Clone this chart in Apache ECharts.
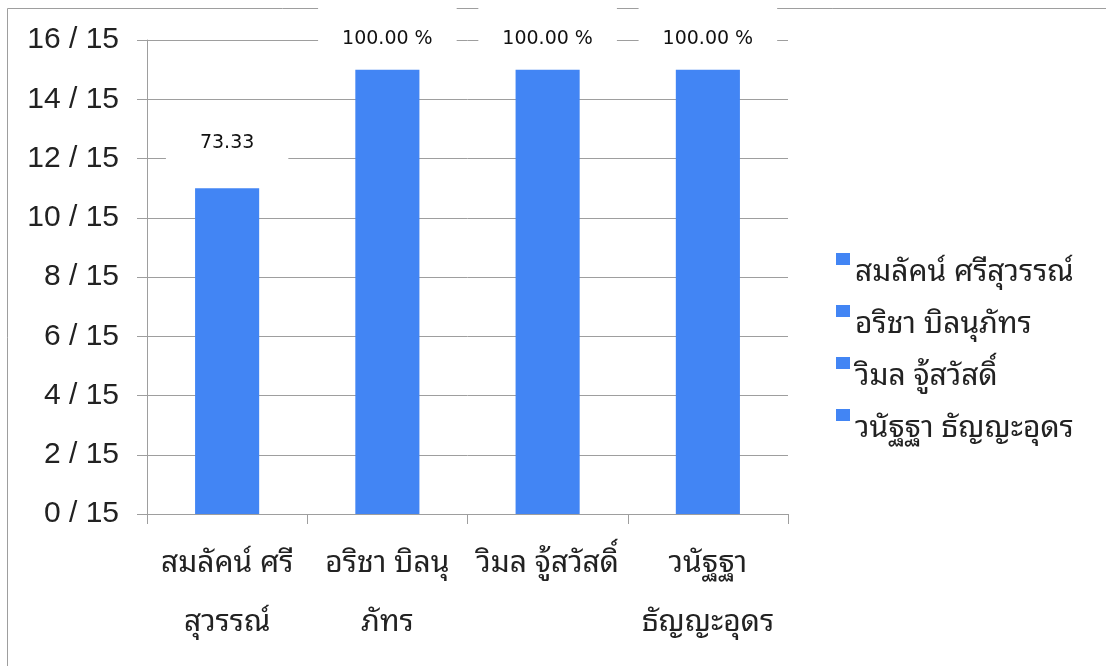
<!DOCTYPE html>
<html><head><meta charset="utf-8">
<script src="https://cdn.jsdelivr.net/npm/echarts@6/dist/echarts.min.js"></script>
<style>html,body{margin:0;padding:0;background:#fff}#c{width:1106px;height:666px}</style>
</head><body><div id="c"></div>
<script>
// ---- data ----
const names = ["สมลัคน์ ศรีสุวรรณ์", "อริชา บิลนุภัทร", "วิมล จู้สวัสดิ์", "วนัฐฐา ธัญญะอุดร"];
const xTickLabels = ["สมลัคน์ ศรี\nสุวรรณ์", "อริชา บิลนุ\nภัทร", "วิมล จู้สวัสดิ์", "วนัฐฐา\nธัญญะอุดร"];
const scores = [11, 15, 15, 15];
const valueLabels = ["73.33", "100.00 %", "100.00 %", "100.00 %"];
const yMin = 0, yMax = 16, yStep = 2, totalScore = 15;

// ---- styles ----
const thaiFont = "'Noto Sans Thai Looped','Noto Sans Thai','Loma','Garuda','Tahoma','DejaVu Sans',sans-serif";
const blue = '#4285F4';
const grey = '#9e9e9e';

const chart = echarts.init(document.getElementById('c'), null, {renderer: 'canvas'});

const series = names.map((nm, i) => ({
  name: nm,
  type: 'bar',
  stack: 'all',
  barWidth: '40%',
  itemStyle: {color: blue},
  emphasis: {disabled: true},
  data: names.map((_, j) => j === i ? {
    value: scores[j],
    label: {
      show: true,
      position: 'top',
      formatter: valueLabels[j],
      color: '#111',
      fontFamily: "'DejaVu Sans',sans-serif",
      fontSize: 19,
      backgroundColor: '#fff',
      distance: j === 0 ? 26 : 17,
      padding: j === 0 ? [6, 34, 10, 34] : [24, 24, 4, 24]
    }
  } : '-')
}));

chart.setOption({
  animation: false,
  backgroundColor: '#fff',
  graphic: [{
    type: 'rect', z: 0, silent: true,
    shape: {x: 7.5, y: 8.5, width: 1300, height: 1000},
    style: {fill: null, stroke: grey, lineWidth: 1}
  }],
  grid: {left: 147, right: 318, top: 40, bottom: 152},
  legend: {
    orient: 'vertical',
    left: 831, top: 248,
    itemWidth: 14, itemHeight: 40, itemGap: 12,
    icon: 'path://M0 0H14V12H0ZM0 40L0 40',
    data: names,
    textStyle: {fontFamily: thaiFont, fontSize: 30, color: '#222'}
  },
  xAxis: {
    type: 'category',
    data: xTickLabels,
    axisLine: {show: true, lineStyle: {color: grey}},
    axisTick: {show: true, length: 10, lineStyle: {color: grey}},
    axisLabel: {interval: 0, margin: 20, fontFamily: thaiFont, fontSize: 30, lineHeight: 59, color: '#222'}
  },
  yAxis: {
    type: 'value',
    min: yMin, max: yMax, interval: yStep,
    axisLine: {show: true, lineStyle: {color: grey}},
    axisTick: {show: true, length: 10, lineStyle: {color: grey}},
    splitLine: {show: true, lineStyle: {color: grey}},
    axisLabel: {margin: 28, fontFamily: "'Liberation Sans',Arial,sans-serif", fontSize: 30, color: '#222',
      formatter: v => v + ' / ' + totalScore}
  },
  series: series
});
</script></body></html>
